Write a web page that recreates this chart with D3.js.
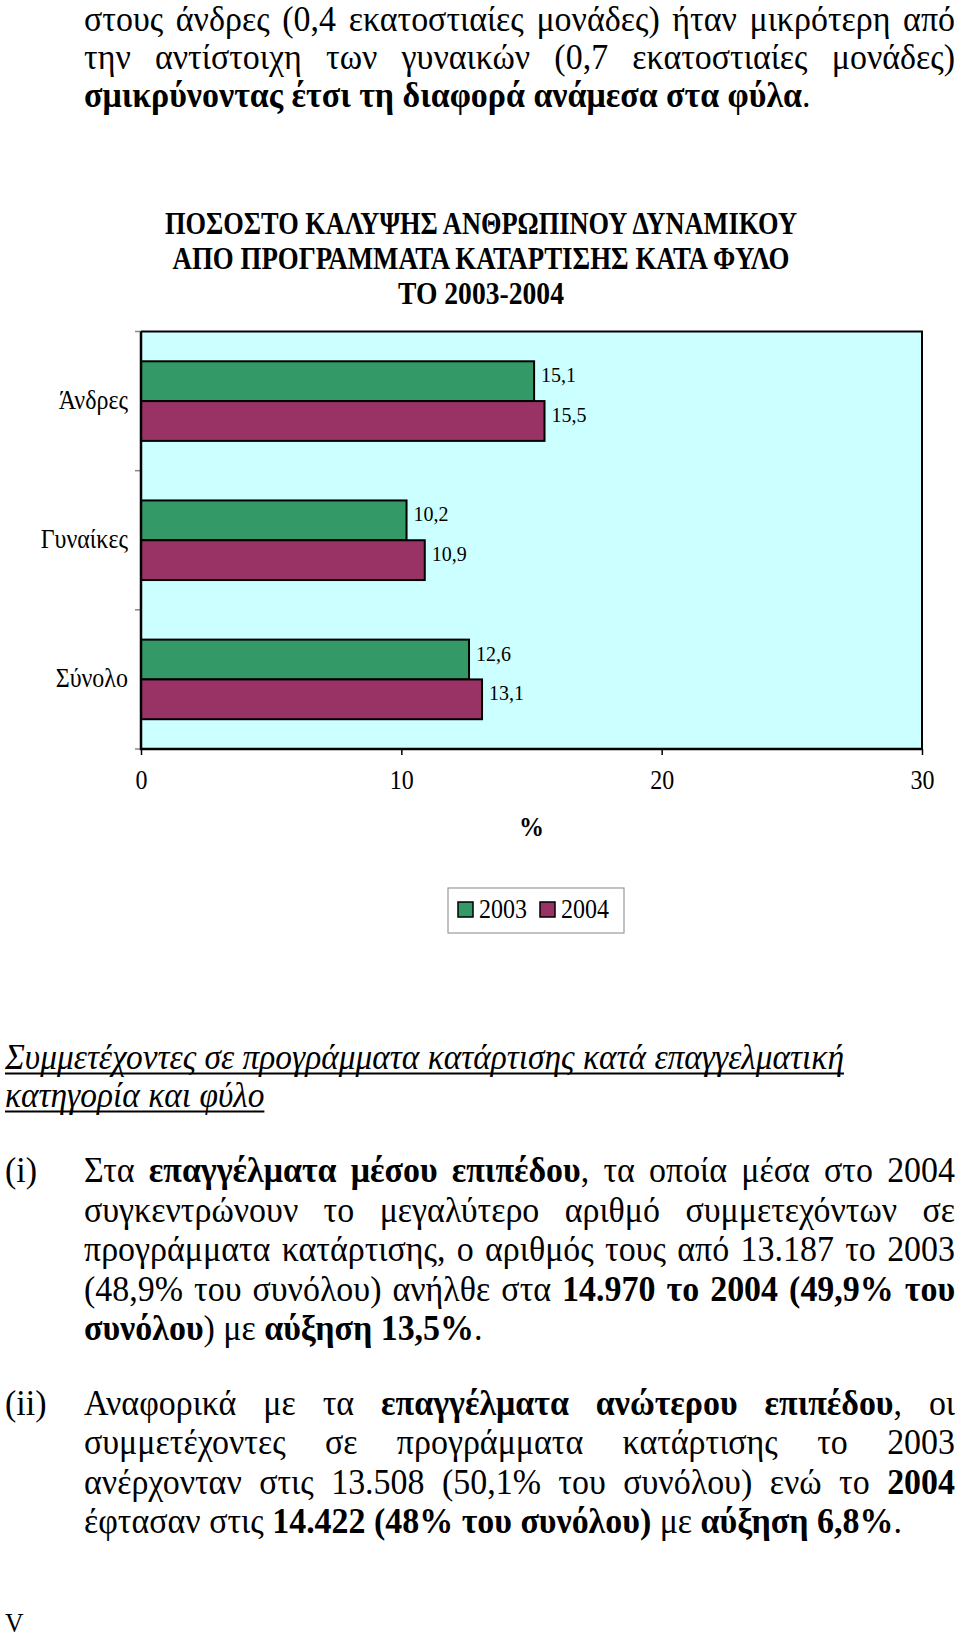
<!DOCTYPE html>
<html><head><meta charset="utf-8">
<script src="https://cdn.jsdelivr.net/npm/d3@7"></script>
<style>html,body{margin:0;padding:0;background:#fff;} svg{display:block;}</style>
</head><body><div id="chart"></div>
<script>
// ---------- content ----------
const introLines = [
  "στους άνδρες (0,4 εκατοστιαίες μονάδες) ήταν μικρότερη από",
  "την αντίστοιχη των γυναικών (0,7 εκατοστιαίες μονάδες)",
  "**σμικρύνοντας έτσι τη διαφορά ανάμεσα στα φύλα**."
];
const titleLines = [
  "ΠΟΣΟΣΤΟ ΚΑΛΥΨΗΣ ΑΝΘΡΩΠΙΝΟΥ ΔΥΝΑΜΙΚΟΥ",
  "ΑΠΟ ΠΡΟΓΡΑΜΜΑΤΑ ΚΑΤΑΡΤΙΣΗΣ ΚΑΤΑ ΦΥΛΟ",
  "ΤΟ 2003-2004"
];
const categories = ["Άνδρες", "Γυναίκες", "Σύνολο"];
const seriesNames = ["2003", "2004"];
const values2003 = [15.1, 10.2, 12.6];
const values2004 = [15.5, 10.9, 13.1];
const xTicks = [0, 10, 20, 30];
const xAxisTitle = "%";
const headingLines = [
  "Συμμετέχοντες σε προγράμματα κατάρτισης κατά επαγγελματική",
  "κατηγορία και φύλο"
];
const paraI = [
  "Στα **επαγγέλματα μέσου επιπέδου**, τα οποία μέσα στο 2004",
  "συγκεντρώνουν το μεγαλύτερο αριθμό συμμετεχόντων σε",
  "προγράμματα κατάρτισης, ο αριθμός τους από 13.187 το 2003",
  "(48,9% του συνόλου) ανήλθε στα **14.970 το 2004 (49,9% του**",
  "**συνόλου**) με **αύξηση 13,5%**."
];
const paraII = [
  "Αναφορικά με τα **επαγγέλματα ανώτερου επιπέδου**, οι",
  "συμμετέχοντες σε προγράμματα κατάρτισης το 2003",
  "ανέρχονταν στις 13.508 (50,1% του συνόλου) ενώ το **2004**",
  "έφτασαν στις **14.422 (48% του συνόλου)** με **αύξηση 6,8%**."
];
const footer = "V";

// ---------- setup ----------
const FONT = "'Liberation Serif','Times New Roman',Times,serif";
const svg = d3.select("#chart").append("svg").attr("width", 960).attr("height", 1640);
svg.append("rect").attr("width", 960).attr("height", 1640).attr("fill", "#fff");

function parse(str) {
  const segs = [];
  str.split("**").forEach((p, i) => { if (p) segs.push({t: p, b: i % 2 === 1}); });
  const words = []; let cur = [];
  segs.forEach(s => {
    s.t.split(" ").forEach((p, j) => {
      if (j > 0 && cur.length) { words.push(cur); cur = []; }
      if (p) cur.push({t: p, b: s.b});
    });
  });
  if (cur.length) words.push(cur);
  return words;
}
function makeWord(g, w, size, italic) {
  const t = g.append("text").attr("font-family", FONT).attr("font-size", size)
    .attr("font-style", italic ? "italic" : null).attr("fill", "#000");
  w.forEach(s => t.append("tspan").text(s.t).attr("font-weight", s.b ? "bold" : null));
  return t;
}
function naturalWidth(str, size, italic) {
  const g = svg.append("g");
  const words = parse(str);
  let sum = 0;
  words.forEach(w => { sum += makeWord(g, w, size, italic).node().getComputedTextLength(); });
  g.remove();
  return sum + (words.length - 1) * size * 0.25;
}
function drawLine(g, str, y, o) {
  const words = parse(str);
  const els = words.map(w => makeWord(g, w, o.size, o.italic));
  const widths = els.map(e => e.node().getComputedTextLength());
  const sum = d3.sum(widths);
  const gap = (o.justify && words.length > 1) ? (o.x1 - o.x0 - sum) / (words.length - 1) : o.size * 0.25;
  let x = o.x0;
  els.forEach((e, i) => {
    e.attr("transform", `translate(${x},${y}) scale(1,${o.sy})`);
    x += widths[i] + (i < els.length - 1 ? gap : 0);
  });
  if (o.underline) {
    g.append("line").attr("x1", o.x0).attr("x2", x).attr("y1", y + 4.5).attr("y2", y + 4.5)
      .attr("stroke", "#000").attr("stroke-width", 1.8);
  }
}

// fit body font to reference line lengths
const fitB = [[introLines[2], 747], [paraI[4], 393], [paraII[3], 807]];
const F = d3.mean(fitB, d => 100 * d[1] / naturalWidth(d[0], 100, false));
const SY = 1.07;
const fitI = [[headingLines[0], 844], [headingLines[1], 258]];
const FI = d3.mean(fitI, d => 100 * d[1] / naturalWidth(d[0], 100, true));

const body = svg.append("g");
const BX0 = 84, BX1 = 955;
introLines.forEach((l, i) => drawLine(body, l, 31 + i * 38, {x0: BX0, x1: BX1, size: F, sy: SY, justify: i < introLines.length - 1}));
headingLines.forEach((l, i) => drawLine(body, l, 1069 + i * 38, {x0: 5, x1: 955, size: FI, sy: SY, italic: true, underline: true}));
drawLine(body, "(i)", 1182, {x0: 5, x1: 60, size: F, sy: SY});
paraI.forEach((l, i) => drawLine(body, l, 1182 + i * 39.5, {x0: BX0, x1: BX1, size: F, sy: SY, justify: i < paraI.length - 1}));
drawLine(body, "(ii)", 1414.5, {x0: 5, x1: 60, size: F, sy: SY});
paraII.forEach((l, i) => drawLine(body, l, 1414.5 + i * 39.5, {x0: BX0, x1: BX1, size: F, sy: SY, justify: i < paraII.length - 1}));
drawLine(body, footer, 1632, {x0: 5, x1: 60, size: F * 0.76, sy: SY});

// ---------- title ----------
const titleW = [632, 617, 166];
svg.append("g").selectAll("text").data(titleLines).join("text")
  .attr("x", 481).attr("y", (d, i) => 234 + i * 35)
  .attr("text-anchor", "middle").attr("font-family", FONT).attr("font-weight", "bold")
  .attr("font-size", 31).attr("textLength", (d, i) => titleW[i]).attr("lengthAdjust", "spacingAndGlyphs")
  .text(d => d);

// ---------- chart ----------
const P = {x0: 141, x1: 922, y0: 331.5, y1: 749};
const x = d3.scaleLinear().domain([0, 30]).range([P.x0, P.x1]);
const y = d3.scaleBand().domain(categories).range([P.y0, P.y1]).paddingInner(0.428).paddingOuter(0.214);
const ys = d3.scaleBand().domain(seriesNames).range([0, y.bandwidth()]);
const color = d3.scaleOrdinal().domain(seriesNames).range(["#339966", "#993366"]);
const rows = categories.map((c, i) => ({cat: c, vals: [{s: "2003", v: values2003[i]}, {s: "2004", v: values2004[i]}]}));
const fmt = v => d3.format(".1f")(v).replace(".", ",");

const ch = svg.append("g");
ch.append("rect").attr("x", P.x0).attr("y", P.y0).attr("width", P.x1 - P.x0).attr("height", P.y1 - P.y0).attr("fill", "#CCFFFF");

// category boundary ticks
const bounds = d3.range(categories.length + 1).map(i => P.y0 + i * (P.y1 - P.y0) / categories.length);
ch.selectAll("line.ct").data(bounds).join("line").attr("class", "ct")
  .attr("x1", P.x0 - 6).attr("x2", P.x0).attr("y1", d => d).attr("y2", d => d)
  .attr("stroke", "#888").attr("stroke-width", 1.5);

const grp = ch.selectAll("g.cat").data(rows).join("g").attr("class", "cat")
  .attr("transform", d => `translate(0,${y(d.cat)})`);
grp.selectAll("rect").data(d => d.vals).join("rect")
  .attr("x", x(0)).attr("y", d => ys(d.s)).attr("width", d => x(d.v) - x(0)).attr("height", ys.bandwidth())
  .attr("fill", d => color(d.s)).attr("stroke", "#000").attr("stroke-width", 2);
grp.selectAll("text").data(d => d.vals).join("text")
  .attr("transform", d => `translate(${x(d.v) + 7},${ys(d.s) + ys.bandwidth() / 2 + 1}) scale(1,1.1)`)
  .attr("font-family", FONT).attr("font-size", 20).text(d => fmt(d.v));

// plot border
ch.append("path").attr("d", `M${P.x0},${P.y0}H${P.x1}V${P.y1}`).attr("fill", "none").attr("stroke", "#000").attr("stroke-width", 2);
ch.append("path").attr("d", `M${P.x0},${P.y0}V${P.y1}H${P.x1}`).attr("fill", "none").attr("stroke", "#000").attr("stroke-width", 2.5);

// x axis
const xa = ch.append("g").attr("transform", `translate(0,${P.y1})`)
  .call(d3.axisBottom(x).tickValues(xTicks).tickSize(6).tickFormat(d3.format("d")));
xa.select(".domain").remove();
xa.selectAll(".tick line").attr("stroke", "#000").attr("stroke-width", 1.5);
xa.selectAll(".tick text").attr("y", 0).attr("dy", null)
  .attr("transform", "translate(0,40) scale(1,1.1)")
  .attr("font-family", FONT).attr("font-size", 24).attr("fill", "#000");

// category labels
ch.selectAll("text.cl").data(categories).join("text").attr("class", "cl")
  .attr("transform", d => `translate(${P.x0 - 13},${y(d) + y.bandwidth() / 2 + 8}) scale(1,1.1)`)
  .attr("text-anchor", "end").attr("font-family", FONT).attr("font-size", 24).text(d => d);

// axis title
ch.append("text").attr("transform", `translate(${(P.x0 + P.x1) / 2},836) scale(1,1.1)`)
  .attr("text-anchor", "middle").attr("font-family", FONT).attr("font-weight", "bold").attr("font-size", 25).text(xAxisTitle);

// legend
const lg = ch.append("g").attr("transform", "translate(448,888)");
lg.append("rect").attr("width", 176).attr("height", 45).attr("fill", "#fff").attr("stroke", "#999").attr("stroke-width", 1.2);
const li = lg.selectAll("g.li").data(seriesNames).join("g").attr("class", "li")
  .attr("transform", (d, i) => `translate(${10 + i * 82},14)`);
li.append("rect").attr("width", 15).attr("height", 15).attr("fill", d => color(d)).attr("stroke", "#000").attr("stroke-width", 1.5);
li.append("text").attr("transform", "translate(21,16) scale(1,1.1)").attr("font-family", FONT).attr("font-size", 24).text(d => d);
</script>
</body></html>
